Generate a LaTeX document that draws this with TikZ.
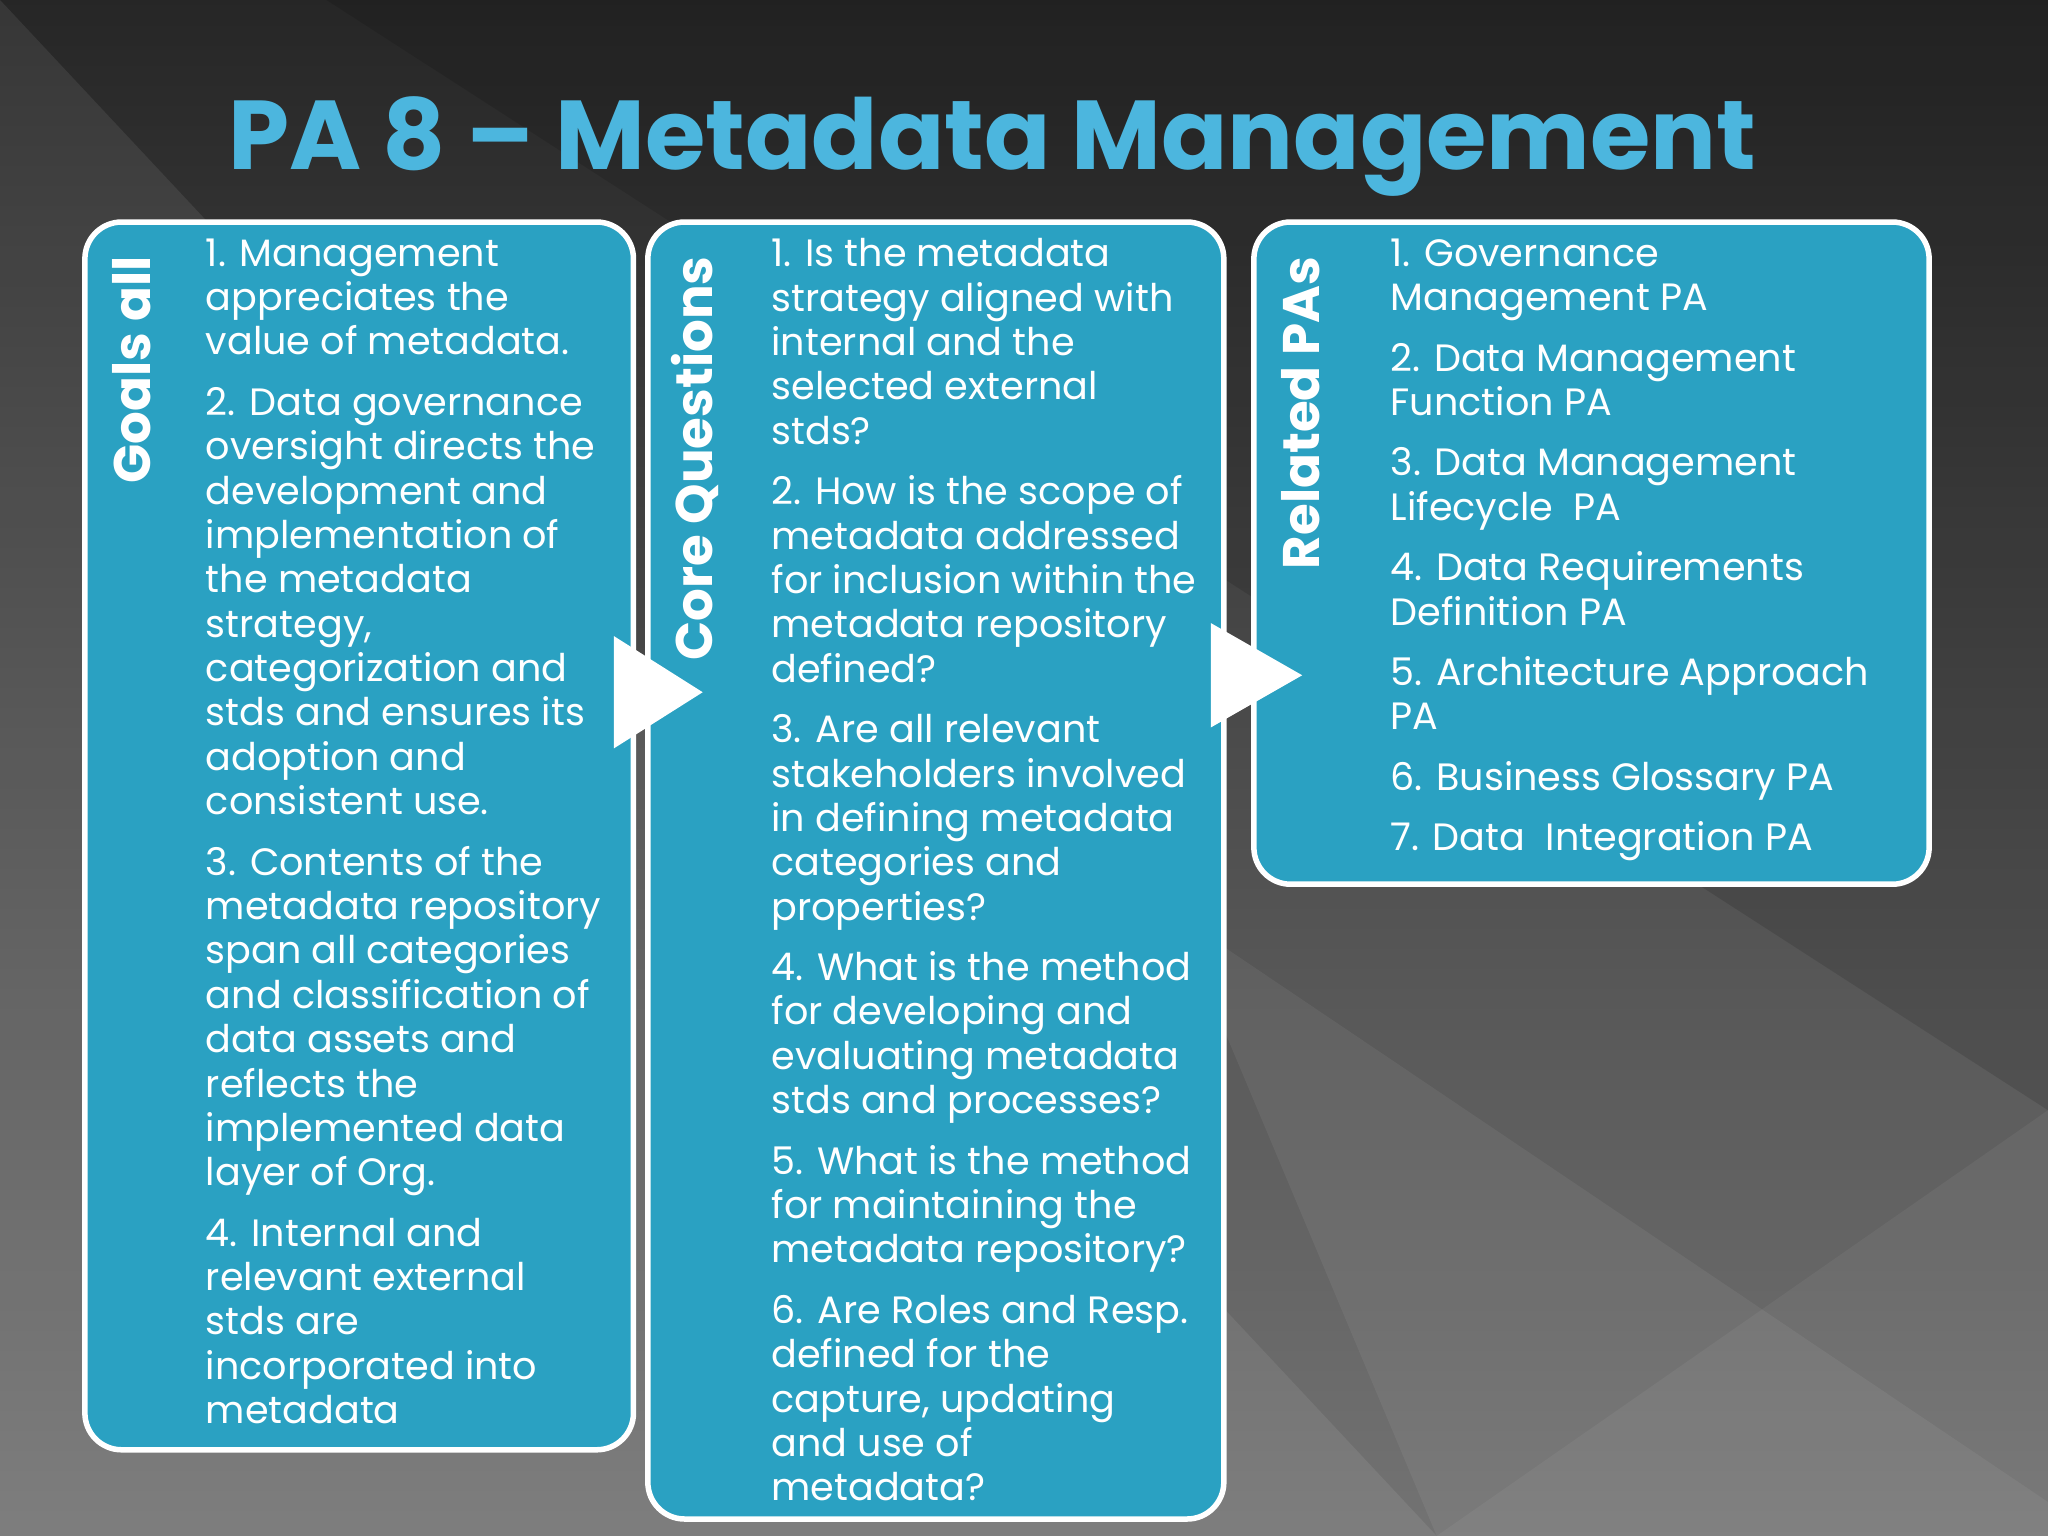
\documentclass[tikz,border=0pt]{standalone}
\usepackage{fontspec}
\setmainfont{Poppins}
\begin{document}
\begin{tikzpicture}[x=0.01cm,y=-0.01cm,
  panel/.style={draw=white,line width=1.2pt,rounded corners=8pt,fill=boxblue},
  vtitle/.style={rotate=90,anchor=east,text=white,font=\bfseries\fontsize{11.2}{13}\selectfont},
  body/.style={anchor=north west,align=left,text=white,font=\fontsize{8.3}{9.66}\selectfont,inner sep=0pt},
  tri/.style={fill=white,draw=none}]
\definecolor{boxblue}{HTML}{2AA1C2}
\definecolor{titleblue}{HTML}{4CB6DE}
\useasboundingbox (0,0) rectangle (1568,1176);
\shade[top color=black!85,bottom color=black!55] (0,0) rectangle (1568,1176);
\fill[white,opacity=0.08] (0,0) -- (0,1176) -- (1100,1176) -- (0,0);
\fill[black,opacity=0.12] (0,0) -- (250,0) -- (1568,850) -- (1568,0) -- cycle;
\fill[white,opacity=0.06] (900,700) -- (1568,1150) -- (1568,1176) -- (1100,1176) -- cycle;
\fill[white,opacity=0.05] (1100,1176) -- (1568,850) -- (1568,1176) -- cycle;
\node[text=titleblue,font=\bfseries\fontsize{21.3}{25}\selectfont] (title) at (760,112) {PA 8 – Metadata Management};
\draw[panel] (65,170) rectangle (485,1110) coordinate (p1);
\draw[panel] (496,170) rectangle (937,1163) coordinate (p2);
\draw[panel] (960,170) rectangle (1477,677) coordinate (p3);
\node[vtitle] (t1) at (101,184) {Goals all};
\node[vtitle] (t2) at (532,184) {Core Questions};
\node[vtitle] (t3) at (996,184) {Related PAs};
\fill[tri] (470,487) -- (538,530) -- (470,573) -- cycle;
\fill[tri] (927,477) -- (997,517) -- (927,557) -- cycle;
\node[body] (b1) at (157,182) {1. Management\\appreciates the\\value of metadata.\\[3.5pt]
2. Data governance\\oversight directs the\\development and\\implementation of\\the metadata\\strategy,\\categorization and\\stds and ensures its\\adoption and\\consistent use.\\[3.5pt]
3. Contents of the\\metadata repository\\span all categories\\and classification of\\data assets and\\reflects the\\implemented data\\layer of Org.\\[3.5pt]
4. Internal and\\relevant external\\stds are\\incorporated into\\metadata};
\node[body] (b2) at (590,182) {1. Is the metadata\\strategy aligned with\\internal and the\\selected external\\stds?\\[3.5pt]
2. How is the scope of\\metadata addressed\\for inclusion within the\\metadata repository\\defined?\\[3.5pt]
3. Are all relevant\\stakeholders involved\\in defining metadata\\categories and\\properties?\\[3.5pt]
4. What is the method\\for developing and\\evaluating metadata\\stds and processes?\\[3.5pt]
5. What is the method\\for maintaining the\\metadata repository?\\[3.5pt]
6. Are Roles and Resp.\\defined for the\\capture, updating\\and use of\\metadata?};
\node[body] (b3) at (1064,182) {1. Governance\\Management PA\\[3.5pt]
2. Data Management\\Function PA\\[3.5pt]
3. Data Management\\Lifecycle\ \ PA\\[3.5pt]
4. Data Requirements\\Definition PA\\[3.5pt]
5. Architecture Approach\\PA\\[3.5pt]
6. Business Glossary PA\\[3.5pt]
7. Data\ \ Integration PA};
\end{tikzpicture}
\end{document}
